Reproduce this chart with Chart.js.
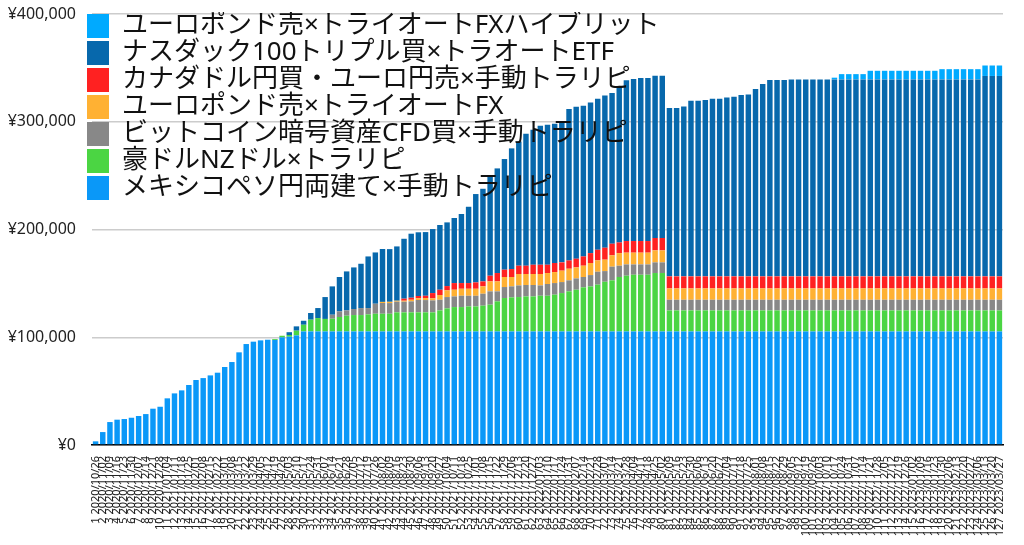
<!DOCTYPE html>
<html>
<head>
<meta charset="utf-8">
<script src="https://cdn.jsdelivr.net/npm/chart.js@4.4.1/dist/chart.umd.min.js"></script>
<style>
  html, body { margin: 0; padding: 0; background: #ffffff; }
  #wrap { width: 1024px; height: 545px; }
</style>
</head>
<body>
<div id="wrap"><canvas id="c" width="1024" height="545"></canvas></div>
<script>
// ---- categories ----
const dates = [
  "2020/10/26","2020/11/02","2020/11/09","2020/11/16","2020/11/23","2020/11/30","2020/12/07","2020/12/14","2020/12/21","2020/12/28",
  "2021/01/04","2021/01/11","2021/01/18","2021/01/25","2021/02/01","2021/02/08","2021/02/15","2021/02/22","2021/03/01","2021/03/08",
  "2021/03/15","2021/03/22","2021/03/29","2021/04/05","2021/04/12","2021/04/19","2021/04/26","2021/05/03","2021/05/10","2021/05/17",
  "2021/05/24","2021/05/31","2021/06/07","2021/06/14","2021/06/21","2021/06/28","2021/07/05","2021/07/12","2021/07/19","2021/07/26",
  "2021/08/02","2021/08/09","2021/08/16","2021/08/23","2021/08/30","2021/09/06","2021/09/13","2021/09/20","2021/09/27","2021/10/04",
  "2021/10/11","2021/10/18","2021/10/25","2021/11/01","2021/11/08","2021/11/15","2021/11/22","2021/11/29","2021/12/06","2021/12/13",
  "2021/12/20","2021/12/27","2022/01/03","2022/01/10","2022/01/17","2022/01/24","2022/01/31","2022/02/07","2022/02/14","2022/02/21",
  "2022/02/28","2022/03/07","2022/03/14","2022/03/21","2022/03/28","2022/04/04","2022/04/11","2022/04/18","2022/04/25","2022/05/02",
  "2022/05/09","2022/05/16","2022/05/23","2022/05/30","2022/06/06","2022/06/13","2022/06/20","2022/06/27","2022/07/04","2022/07/11",
  "2022/07/18","2022/07/25","2022/08/01","2022/08/08","2022/08/15","2022/08/22","2022/08/29","2022/09/05","2022/09/12","2022/09/19",
  "2022/09/26","2022/10/03","2022/10/10","2022/10/17","2022/10/24","2022/10/31","2022/11/07","2022/11/14","2022/11/21","2022/11/28",
  "2022/12/05","2022/12/12","2022/12/19","2022/12/26","2023/01/02","2023/01/09","2023/01/16","2023/01/23","2023/01/30","2023/02/06",
  "2023/02/13","2023/02/20","2023/02/27","2023/03/06","2023/03/13","2023/03/20","2023/03/27"
];
const labels = dates.map((d, i) => (i + 1) + ' ' + d);

// ---- series (yen) ----
const mexico = [
  3400,12000,21300,23500,24100,25300,26900,28700,33700,35500,
  43300,47900,50700,55700,60300,62100,64600,67100,72400,77000,
  86000,93700,95900,97100,97700,97500,99900,100500,101700,105400,
  105400,105400,105400,105400,105400,105400,105400,105400,105400,105400,
  105400,105400,105400,105400,105400,105400,105400,105400,105400,105400,
  105400,105400,105400,105400,105400,105400,105400,105400,105400,105400,
  105400,105400,105400,105400,105400,105400,105400,105400,105400,105400,
  105400,105400,105400,105400,105400,105400,105400,105400,105400,105400,
  105400,105400,105400,105400,105400,105400,105400,105400,105400,105400,
  105400,105400,105400,105400,105400,105400,105400,105400,105400,105400,
  105400,105400,105400,105400,105400,105400,105400,105400,105400,105400,
  105400,105400,105400,105400,105400,105400,105400,105400,105400,105400,
  105400,105400,105400,105400,105400,105400,105400
];
const audnzd = [
  0,0,0,0,0,0,0,0,0,0,
  0,0,0,0,0,0,0,0,0,0,
  0,0,0,0,0,800,1500,1600,4400,6200,
  10900,12400,11600,11800,13400,14600,15200,15200,15800,16400,
  16400,16400,17700,17700,17700,17700,17700,17700,19500,21400,
  22600,22600,23200,23200,23900,24800,27900,31000,31600,31900,
  32500,32500,33100,33100,34100,35600,37200,38700,40900,41800,
  43400,46100,47400,50500,51700,52600,52600,52600,54200,54200,
  19500,19500,19500,19500,19500,19500,19500,19500,19500,19500,
  19500,19500,19500,19500,19500,19500,19500,19500,19500,19500,
  19500,19500,19500,19500,19500,19500,19500,19500,19500,19500,
  19500,19500,19500,19500,19500,19500,19500,19500,19500,19500,
  19500,19500,19500,19500,19500,19500,19500
];
const bitcoin = [
  0,0,0,0,0,0,0,0,0,0,
  0,0,0,0,0,0,0,0,0,0,
  0,0,0,0,0,0,0,0,0,0,
  0,0,0,3700,5200,4900,5600,6500,5900,9300,
  10000,9900,9900,9900,10200,11500,11400,11100,9900,10500,
  9900,10500,9900,9900,11100,12400,9300,10200,10200,10800,
  10600,10600,9600,10900,10800,10200,10200,10500,9600,10500,
  12000,9900,12700,10500,10500,9600,9600,9600,9900,9900,
  9900,9900,9900,9900,9900,9900,9900,9900,9900,9900,
  9900,9900,9900,9900,9900,9900,9900,9900,9900,9900,
  9900,9900,9900,9900,9900,9900,9900,9900,9900,9900,
  9900,9900,9900,9900,9900,9900,9900,9900,9900,9900,
  9900,9900,9900,9900,9900,9900,9900
];
const eurgbpFx = [
  0,0,0,0,0,0,0,0,0,0,
  0,0,0,0,0,0,0,0,0,0,
  0,0,0,0,0,0,0,0,0,0,
  0,0,0,0,0,0,0,0,0,0,
  1000,1200,900,900,1500,1600,1900,1900,4400,6200,
  6200,6500,6500,6500,6800,9200,9200,9300,8700,10600,
  10200,10200,10600,10200,10200,10600,10800,10200,10500,11200,
  10500,10600,10500,11700,10900,10900,10900,10900,11100,11100,
  10500,10500,10500,10500,10500,10500,10500,10500,10500,10500,
  10500,10500,10500,10500,10500,10500,10500,10500,10500,10500,
  10500,10500,10500,10500,10500,10500,10500,10500,10500,10500,
  10500,10500,10500,10500,10500,10500,10500,10500,10500,10500,
  10500,10500,10500,10500,10500,10500,10500
];
const cadjpy = [
  0,0,0,0,0,0,0,0,0,0,
  0,0,0,0,0,0,0,0,0,0,
  0,0,0,0,0,0,0,0,0,0,
  0,0,0,0,0,0,0,0,0,0,
  0,0,0,1900,1900,2100,2100,4900,4900,4000,
  6200,5300,5300,5900,4600,5300,7800,6800,7400,7700,
  7700,8600,8600,7700,8400,7700,7700,8100,8600,9200,
  9900,11100,10800,9900,10800,10800,10800,10800,11500,11500,
  11200,11200,11200,11200,11200,11200,11200,11200,11200,11200,
  11200,11200,11200,11200,11200,11200,11200,11200,11200,11200,
  11200,11200,11200,11200,11200,11200,11200,11200,11200,11200,
  11200,11200,11200,11200,11200,11200,11200,11200,11200,11200,
  11200,11200,11200,11200,11200,11200,11200
];
const nasdaq = [
  0,0,0,0,0,0,0,0,0,0,
  0,0,0,0,0,0,0,0,0,0,
  0,0,0,0,0,0,0,2600,4000,3700,
  6200,9300,20300,26300,31900,36200,38600,41100,47900,47600,
  49100,48900,50400,55600,59400,59100,59100,59400,60100,59100,
  60400,64100,70800,82000,86000,92200,97100,102700,112000,115300,
  122500,125300,129000,129900,129300,129300,140500,141000,139900,139800,
  140200,141300,139800,144800,149100,150300,151300,151300,150600,150600,
  156200,156200,157700,163000,163000,163700,164900,164900,166100,166700,
  168300,168900,173900,178500,182200,182200,182200,182800,182800,182800,
  182800,182800,182800,182800,182800,182800,182800,182800,182800,182800,
  182800,182800,182800,182800,182800,182800,182800,182800,182800,182800,
  182800,182800,182800,182800,186000,186000,186000
];
const eurgbpHybrid = [
  0,0,0,0,0,0,0,0,0,0,
  0,0,0,0,0,0,0,0,0,0,
  0,0,0,0,0,0,0,0,0,0,
  0,0,0,0,0,0,0,0,0,0,
  0,0,0,0,0,0,0,0,0,0,
  0,0,0,0,0,0,0,0,0,0,
  0,0,0,0,0,0,0,0,0,0,
  0,0,0,0,0,0,0,0,0,0,
  0,0,0,0,0,0,0,0,0,0,
  0,0,0,0,0,0,0,0,0,0,
  0,0,0,1600,4900,4900,4900,4900,8000,8000,
  8000,8000,8000,8000,8000,8000,8000,8000,9500,9500,
  9500,9500,9500,9500,9700,9700,9700
];
const yTicks = [0, 100000, 200000, 300000, 400000];

const seriesNames = [
  'メキシコペソ円両建て×手動トラリピ',
  '豪ドルNZドル×トラリピ',
  'ビットコイン暗号資産CFD買×手動トラリピ',
  'ユーロポンド売×トライオートFX',
  'カナダドル円買・ユーロ円売×手動トラリピ',
  'ナスダック100トリプル買×トラオートETF',
  'ユーロポンド売×トライオートFXハイブリット'
];
const seriesData = [mexico, audnzd, bitcoin, eurgbpFx, cadjpy, nasdaq, eurgbpHybrid];
const seriesColors = ['#0A98F8', '#4BD543', '#888888', '#FFB133', '#FF2121', '#0768AC', '#00AAFF'];

const FONT = "'Noto Sans', 'Noto Sans CJK JP', sans-serif";

const legendOnTop = {
  id: 'legendOnTop',
  beforeLayout(chart) {
    const lg = chart.legend;
    if (lg && !lg.__patched) {
      lg._layers = () => [{ z: 5, draw: (ca) => lg.draw(ca) }];
      lg.__patched = true;
    }
  },
  afterLayout(chart) {
    const lg = chart.legend;
    if (lg) {
      lg.left = chart.chartArea.left - 6;
      lg.top = chart.chartArea.top - 2;
    }
  }
};

new Chart(document.getElementById('c'), {
  type: 'bar',
  data: {
    labels: labels,
    datasets: seriesNames.map((name, i) => ({
      label: name,
      data: seriesData[i],
      backgroundColor: seriesColors[i],
      borderWidth: 0,
      barPercentage: 0.76,
      categoryPercentage: 1.0
    }))
  },
  options: {
    responsive: false,
    animation: false,
    devicePixelRatio: 1,
    layout: { padding: { left: 0, right: 21, top: 14, bottom: 0 } },
    plugins: {
      legend: {
        position: 'chartArea',
        align: 'start',
        reverse: true,
        labels: {
          boxWidth: 22,
          boxHeight: 24,
          padding: 1,
          color: '#111111',
          font: { family: FONT, size: 26 }
        }
      },
      tooltip: { enabled: false }
    },
    scales: {
      x: {
        stacked: true,
        grid: { display: false },
        border: { display: true, color: '#000000', width: 1.5 },
        ticks: {
          autoSkip: false,
          maxRotation: 90,
          minRotation: 90,
          padding: 3,
          color: '#222222',
          font: { family: FONT, size: 11 }
        },
        afterFit(s) { s.height = 100; }
      },
      y: {
        stacked: true,
        min: 0,
        max: 400000,
        afterBuildTicks(s) { s.ticks = yTicks.map(v => ({ value: v })); },
        grid: { color: '#cccccc', lineWidth: 1.5, drawTicks: true, tickLength: 14, tickColor: 'rgba(0,0,0,0)' },
        border: { display: false },
        ticks: {
          padding: 2,
          color: '#222222',
          font: { family: FONT, size: 16 },
          callback: (v) => '¥' + Number(v).toLocaleString('en-US')
        },
        afterFit(s) { s.width = 92; }
      }
    }
  },
  plugins: [legendOnTop]
});
</script>
</body>
</html>
